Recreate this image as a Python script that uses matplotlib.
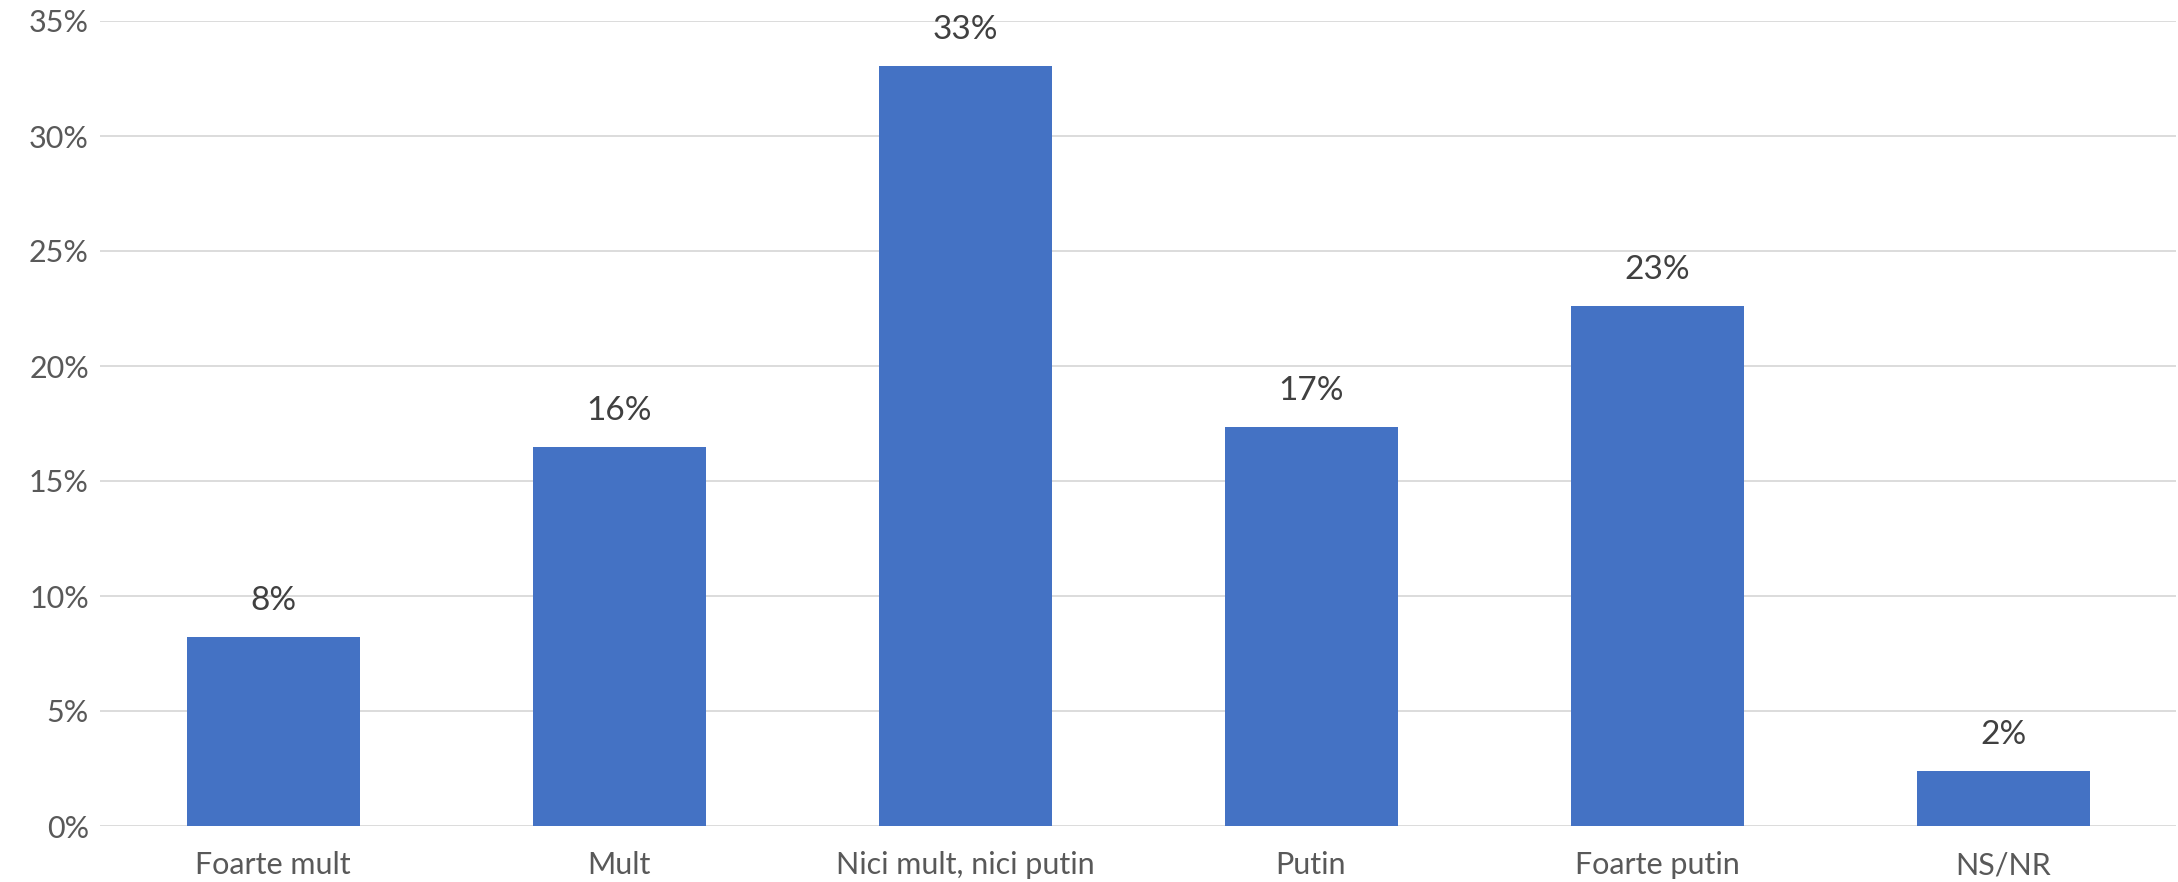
import matplotlib
matplotlib.use("Agg")
import matplotlib.pyplot as plt
from matplotlib.ticker import FuncFormatter

categories = ["Foarte mult", "Mult", "Nici mult, nici putin", "Putin", "Foarte putin", "NS/NR"]
values = [8.22, 16.48, 33.04, 17.35, 22.6, 2.39]
labels = ["8%", "16%", "33%", "17%", "23%", "2%"]
yticks = [0, 5, 10, 15, 20, 25, 30, 35]

plt.rcParams["font.family"] = ["Lato", "DejaVu Sans"]

fig = plt.figure(figsize=(21.78, 8.82), dpi=100)
ax = fig.add_axes([100 / 2178, 1 - 826 / 882, 2076 / 2178, 805 / 882])

x = range(len(categories))
bars = ax.bar(x, values, width=0.5, color="#4472C4", zorder=3)

for b, lab in zip(bars, labels):
    ax.annotate(lab, (b.get_x() + b.get_width() / 2, b.get_height()),
                xytext=(0, 15), textcoords="offset points",
                ha="center", va="bottom", fontsize=24, color="#404040")

ax.set_xlim(-0.5, len(categories) - 0.5)
ax.set_ylim(0, 35)
ax.set_yticks(yticks)
ax.yaxis.set_major_formatter(FuncFormatter(lambda v, p: f"{v:.0f}%"))
ax.set_xticks(list(x))
ax.set_xticklabels(categories)

ax.grid(axis="y", color="#d9d9d9", linewidth=1.3, zorder=0)
for s in ax.spines.values():
    s.set_visible(False)
ax.tick_params(axis="both", length=0, labelsize=22, colors="#595959")
ax.tick_params(axis="y", pad=8)
ax.tick_params(axis="x", pad=18)

fig.savefig("out.png", dpi=100)
